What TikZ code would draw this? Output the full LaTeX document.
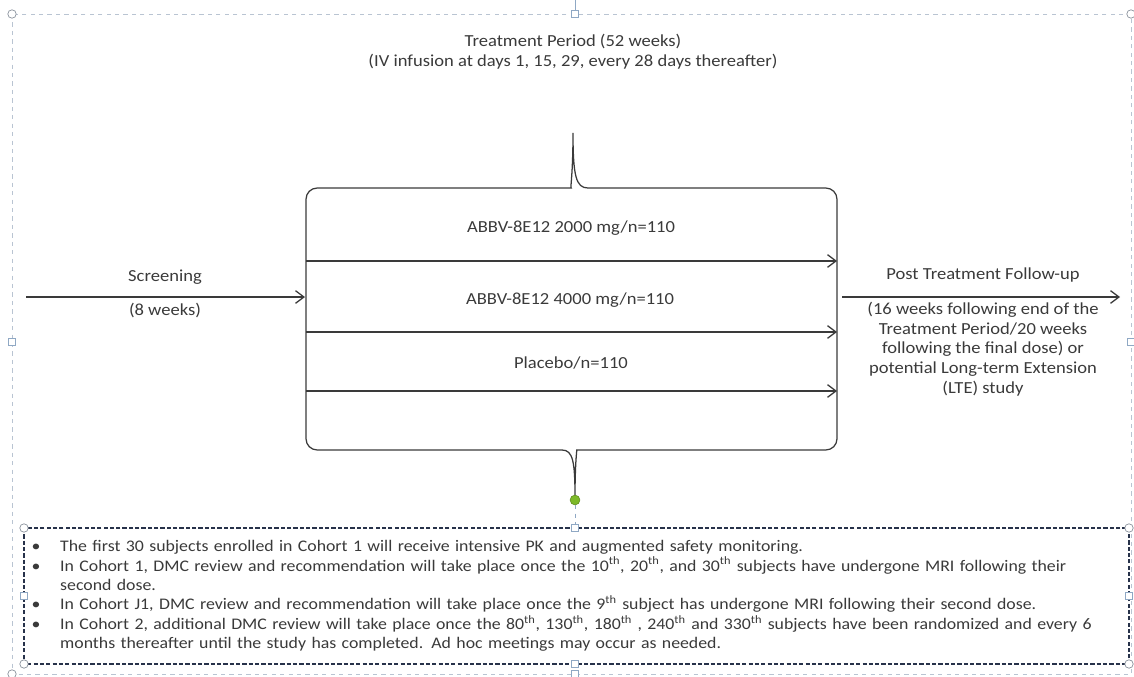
\documentclass[tikz,border=0pt]{standalone}
\usepackage{fontspec}
\setmainfont{Carlito}[FakeStretch=1.1]
\usepackage{enumitem}
\usetikzlibrary{arrows.meta}

\definecolor{inkgray}{HTML}{3A3A3A}
\definecolor{framegray}{HTML}{B9C4D2}
\definecolor{handlegray}{HTML}{8C949E}
\definecolor{handleblue}{HTML}{8FA8C4}
\definecolor{boxnavy}{HTML}{27324A}
\definecolor{dotgreen}{HTML}{7DB928}

\tikzset{
  flowarrow/.style={draw=inkgray, line width=0.9pt, -{Straight Barb[length=6pt,width=9pt]}},
  armtext/.style={text=inkgray, font=\fontsize{12}{14}\selectfont, inner sep=0pt},
  headtext/.style={text=inkgray, font=\fontsize{12}{14.2}\selectfont, inner sep=0pt, align=center},
  roundhandle/.style={circle, draw=handlegray, fill=white, line width=0.5pt, inner sep=0pt, minimum size=6pt},
  squarehandle/.style={rectangle, draw=handleblue, fill=white, line width=0.5pt, inner sep=0pt, minimum size=5pt},
}

\begin{document}
\begin{tikzpicture}[x=0.025cm,y=-0.025cm]
\useasboundingbox (0,0) rectangle (1134,677);

% canvas frame and its handles
\draw[framegray, dashed, line width=0.6pt] (12,14) rectangle (1131,674);
\draw[handleblue, line width=0.6pt] (575,0) -- (575,14);
\node[roundhandle] (canvasTL) at (12,14) {};
\node[squarehandle] (canvasT) at (575,14) {};
\node[roundhandle] (canvasTR) at (1131,14) {};
\node[squarehandle] (canvasL) at (12,342) {};
\node[squarehandle] (canvasR) at (1131,342) {};
\node[roundhandle] (canvasBL) at (12,674) {};
\node[squarehandle] (canvasB) at (575,674) {};

% heading
\node[headtext] (period) at (573,52) {Treatment Period (52 weeks)\\(IV infusion at days 1, 15, 29, every 28 days thereafter)};

% treatment brace
\draw[inkgray, line width=0.9pt]
  (588,188) [rounded corners=8] -- (837,188) -- (837,450) -- (588,450)
  [sharp corners] .. controls (577,450) and (575,462) .. (575,497)
  .. controls (575,462) and (573,450) .. (562,450)
  [rounded corners=8] -- (306,450) -- (306,188) -- (560,188)
  [sharp corners] .. controls (570,188) and (573,176) .. (573,133)
  .. controls (573,176) and (576,188) .. (588,188);

% treatment arms
\foreach \y/\arm in {261/high,332/low,391/placebo}{
  \coordinate (\arm start) at (306,\y);
  \coordinate (\arm end) at (837,\y);
  \draw[flowarrow] (\arm start) -- (\arm end);
}
\node[armtext] (dosehigh) at (571,228) {ABBV-8E12 2000 mg/n=110};
\node[armtext] (doselow) at (570,300) {ABBV-8E12 4000 mg/n=110};
\node[armtext] (doseplacebo) at (571,363) {Placebo/n=110};

% screening
\coordinate (screenstart) at (26,297);
\coordinate (screenend) at (305,297);
\draw[flowarrow] (screenstart) -- (screenend);
\node[armtext] (screening) at (165,277) {Screening};
\node[armtext] (screenweeks) at (165,310) {(8 weeks)};

% follow-up
\coordinate (followstart) at (842,297);
\coordinate (followend) at (1120,297);
\draw[flowarrow] (followstart) -- (followend);
\node[armtext] (followup) at (983,275) {Post Treatment Follow-up};
\node[armtext, align=center] (followtext) at (983,349) {(16 weeks following end of the\\Treatment Period/20 weeks\\following the final dose) or\\potential Long-term Extension\\(LTE) study};

% notes box
\draw[boxnavy, line width=0.8pt, dash pattern=on 3pt off 1.5pt] (24,528) rectangle (1129,664);
\node[roundhandle] (boxTL) at (24,528) {};
\node[squarehandle] (boxT) at (575,528) {};
\node[roundhandle] (boxTR) at (1129,528) {};
\node[squarehandle] (boxL) at (24,596) {};
\node[squarehandle] (boxR) at (1129,596) {};
\node[roundhandle] (boxBL) at (24,664) {};
\node[squarehandle] (boxB) at (575,664) {};
\node[roundhandle] (boxBR) at (1129,664) {};

\node[circle, fill=dotgreen, draw=dotgreen!75!black, line width=0.4pt, inner sep=0pt, minimum size=7pt] (anchordot) at (575,500) {};
\draw[handleblue, dashed, line width=0.6pt] (anchordot) -- (boxT);

\node[anchor=north west, inner sep=0pt, text=inkgray, font=\fontsize{11.5}{13.8}\selectfont, text width=790pt, align=left] (notes) at (29,532) {%
\begin{itemize}[leftmargin=22pt, labelsep=14pt, itemsep=0pt, topsep=0pt, parsep=0pt, partopsep=0pt]
\item The first 30 subjects enrolled in Cohort 1 will receive intensive PK and augmented safety monitoring.
\item In Cohort 1, DMC review and recommendation will take place once the 10\textsuperscript{th}, 20\textsuperscript{th}, and 30\textsuperscript{th} subjects have undergone MRI following their\newline second dose.
\item In Cohort J1, DMC review and recommendation will take place once the 9\textsuperscript{th} subject has undergone MRI following their second dose.
\item In Cohort 2, additional DMC review will take place once the 80\textsuperscript{th}, 130\textsuperscript{th}, 180\textsuperscript{th} , 240\textsuperscript{th} and 330\textsuperscript{th} subjects have been randomized and every 6\newline months thereafter until the study has completed. Ad hoc meetings may occur as needed.
\end{itemize}};
\end{tikzpicture}
\end{document}
